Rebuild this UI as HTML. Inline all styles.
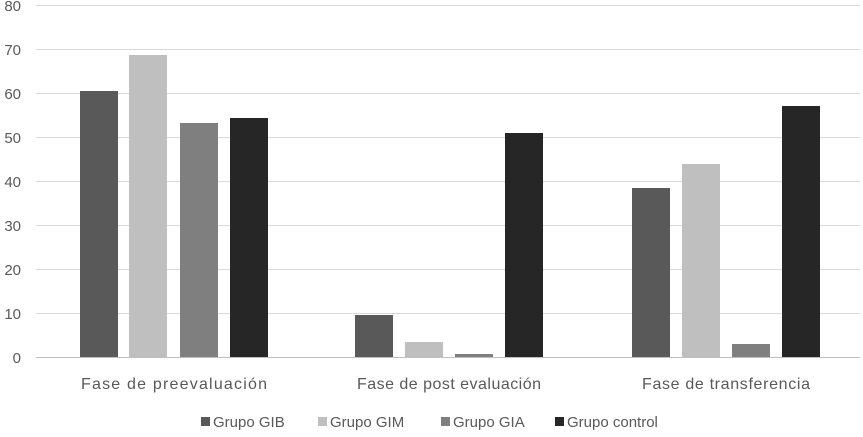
<!DOCTYPE html>
<html><head><style>body{margin:0;background:#fff}</style></head><body>
<svg width="863" height="432" xmlns="http://www.w3.org/2000/svg" font-family="Liberation Sans, sans-serif" fill="#595959">
<g stroke="#d9d9d9" stroke-width="1">
<line x1="36" x2="860" y1="5.5" y2="5.5"/><line x1="36" x2="860" y1="49.5" y2="49.5"/><line x1="36" x2="860" y1="93.5" y2="93.5"/><line x1="36" x2="860" y1="137.5" y2="137.5"/><line x1="36" x2="860" y1="181.5" y2="181.5"/><line x1="36" x2="860" y1="225.5" y2="225.5"/><line x1="36" x2="860" y1="269.5" y2="269.5"/><line x1="36" x2="860" y1="313.5" y2="313.5"/>
</g>
<line x1="36" x2="860" y1="357.5" y2="357.5" stroke="#bfbfbf"/>
<g font-size="15" text-anchor="end">
<text x="21" y="11">80</text><text x="21" y="55">70</text><text x="21" y="99">60</text><text x="21" y="143">50</text><text x="21" y="187">40</text><text x="21" y="231">30</text><text x="21" y="275">20</text><text x="21" y="319">10</text><text x="21" y="363">0</text>
</g>
<rect x="80" y="91" width="38" height="266" fill="#595959"/>
<rect x="129" y="55" width="38" height="302" fill="#bfbfbf"/>
<rect x="180" y="123" width="38" height="234" fill="#7f7f7f"/>
<rect x="230" y="118" width="38" height="239" fill="#262626"/>
<rect x="355" y="315" width="38" height="42" fill="#595959"/>
<rect x="405" y="342" width="38" height="15" fill="#bfbfbf"/>
<rect x="455" y="354" width="38" height="3" fill="#7f7f7f"/>
<rect x="505" y="133" width="38" height="224" fill="#262626"/>
<rect x="632" y="188" width="38" height="169" fill="#595959"/>
<rect x="682" y="164" width="38" height="193" fill="#bfbfbf"/>
<rect x="732" y="344" width="38" height="13" fill="#7f7f7f"/>
<rect x="782" y="106" width="38" height="251" fill="#262626"/>
<g font-size="16" text-anchor="middle">
<text x="174" y="389" textLength="186">Fase de preevaluación</text>
<text x="449" y="389" textLength="184">Fase de post evaluación</text>
<text x="726" y="389" textLength="168">Fase de transferencia</text>
</g>
<g font-size="15">
<rect x="201" y="417" width="9" height="9" fill="#595959"/><text x="213" y="427">Grupo GIB</text>
<rect x="318" y="417" width="9" height="9" fill="#bfbfbf"/><text x="330" y="427">Grupo GIM</text>
<rect x="441" y="417" width="9" height="9" fill="#7f7f7f"/><text x="453" y="427">Grupo GIA</text>
<rect x="555" y="417" width="9" height="9" fill="#262626"/><text x="567" y="427">Grupo control</text>
</g>
</svg>
</body></html>
